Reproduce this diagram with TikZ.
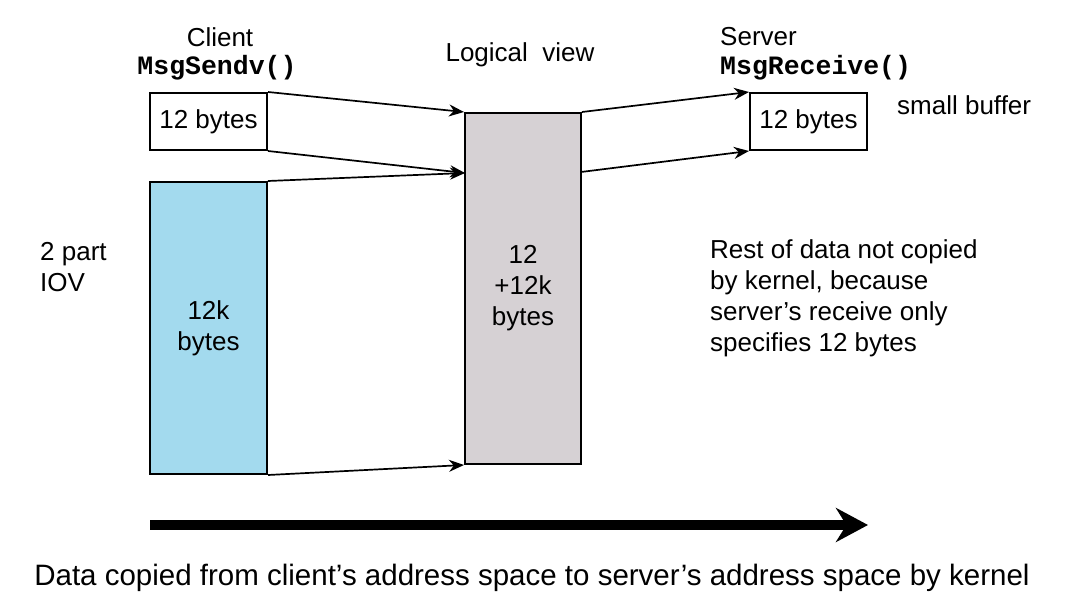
\documentclass[tikz,border=0pt]{standalone}
\usepackage{fontspec}
\setmainfont{Liberation Sans}
\setmonofont{Liberation Mono}
\usetikzlibrary{arrows.meta}
\definecolor{iovblue}{RGB}{163,218,238}
\definecolor{viewgray}{RGB}{214,209,212}
\tikzset{
  buf/.style={draw, line width=2pt, minimum width=117pt, inner sep=0pt, align=center},
  copy/.style={-{Stealth[length=15pt,width=12pt]}, line width=1.7pt},
  lbl/.style={inner sep=0pt, align=left},
  code/.style={inner sep=0pt, font=\fontsize{26.5}{30}\selectfont\ttfamily\bfseries}
}
\begin{document}
\begin{tikzpicture}[x=1pt, y=-1pt, font=\fontsize{26}{31}\selectfont]
  \useasboundingbox (0,0) rectangle (1072,604);
  % client side
  \node[lbl] (client) at (220,37) {Client};
  \node[code] (sendv) at (217,68) {MsgSendv()};
  \node[buf, minimum height=57pt] (cbuf) at (208.5,121.5) {12 bytes};
  \node[buf, minimum height=292pt, fill=iovblue] (iov) at (208.5,328) {12k\\bytes};
  \node[lbl, anchor=west] (parts) at (40,267) {2 part\\IOV};
  % logical view
  \node[lbl] (logical) at (520,55) {Logical\ \ view};
  \node[buf, minimum width=116pt, minimum height=351pt, fill=viewgray] (view) at (523,288.5) {12\\+12k\\bytes};
  \coordinate (viewin) at (465,173);
  \coordinate (viewout) at (581,172);
  % server side
  \node[lbl, anchor=west] (server) at (720,37) {Server};
  \node[code, anchor=west] (receive) at (720,68) {MsgReceive()};
  \node[buf, minimum height=57pt] (sbuf) at (808.5,121.5) {12 bytes};
  \node[lbl, anchor=west] (small) at (897,105) {small buffer};
  \node[lbl, anchor=west] (rest) at (710,298) {Rest of data not copied\\by kernel, because\\server's receive only\\specifies 12 bytes};
  % copies
  \draw[copy] (cbuf.north east) -- (view.north west);
  \draw[copy] (cbuf.south east) -- (viewin);
  \draw[copy] (iov.north east) -- (viewin);
  \draw[copy] (iov.south east) -- (view.south west);
  \draw[copy] (view.north east) -- (sbuf.north west);
  \draw[copy] (viewout) -- (sbuf.south west);
  % direction
  \coordinate (dirl) at (150,525);
  \coordinate (dirr) at (868,525);
  \draw[line width=10pt, -{Stealth[length=32pt,width=34pt]}] (dirl) -- (dirr);
  \node[lbl] (caption) at (532,578) {\fontsize{29.5}{34}\selectfont Data copied from client's address space to server's address space by kernel};
\end{tikzpicture}
\end{document}
